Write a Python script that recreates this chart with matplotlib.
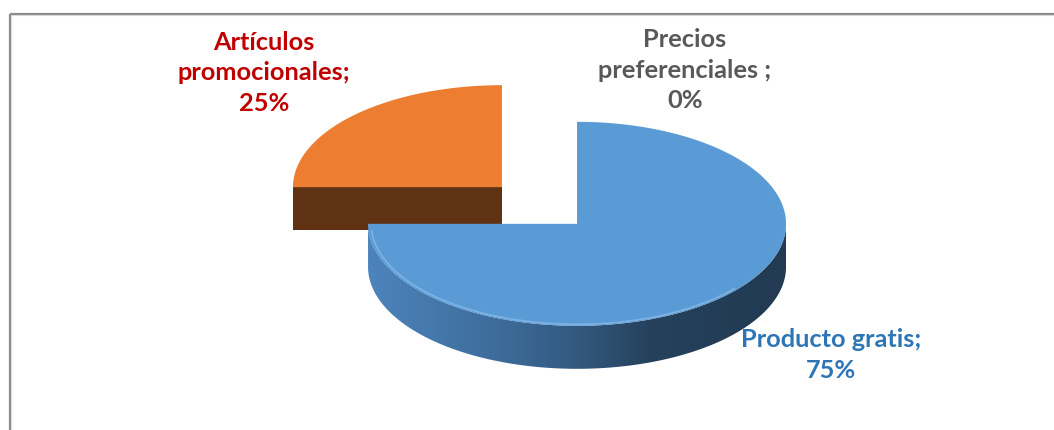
import numpy as np
import matplotlib
matplotlib.use("Agg")
import matplotlib.pyplot as plt
from matplotlib.patches import Polygon
from matplotlib.colors import LinearSegmentedColormap, to_rgb

# ---- data -------------------------------------------------------------
categories = ["Producto gratis", "Precios preferenciales", "Artículos promocionales"]
values = [75, 0, 25]
label_texts = ["Producto gratis;\n75%", "Precios\npreferenciales ;\n0%",
               "Artículos\npromocionales;\n25%"]

# ---- style ------------------------------------------------------------
top_colors = ["#5B9BD5", "#A5A5A5", "#ED7D31"]
label_colors = ["#2E75B6", "#595959", "#C00000"]
label_pos = [(831, 355), (685, 70), (264, 73)]
side_ramp = ["#4D84BC", "#3E6D9C", "#33597F", "#25415C", "#223A52"]

W, H = 1054, 430
cx, cy = 539.5, 205.5      # pie centre (pixels)
rx, ry = 209.0, 102.0      # ellipse radii of the tilted top face
depth = 43.0               # pie thickness
explode = 0.254

fig = plt.figure(figsize=(W / 100, H / 100), dpi=100)
ax = fig.add_axes([0, 0, 1, 1])
ax.set_xlim(0, W)
ax.set_ylim(H, 0)
ax.axis("off")


def ell(x0, y0, ang_deg, r=1.0):
    a = np.deg2rad(ang_deg)
    return x0 + rx * r * np.cos(a), y0 - ry * r * np.sin(a)


def darker(c, f):
    r, g, b = to_rgb(c)
    return (r * f, g * f, b * f)


# slice angles: start at 12 o'clock, clockwise
total = float(sum(values))
slices = []
start = 90.0
for i, v in enumerate(values):
    sweep = 360.0 * v / total
    t1, t2 = start, start - sweep
    start = t2
    if v <= 0:
        continue
    mid = np.deg2rad((t1 + t2) / 2)
    ox = cx + explode * rx * np.cos(mid)
    oy = cy - explode * ry * np.sin(mid)
    slices.append((oy, i, t1, t2, ox))

# draw from back to front
for oy, i, t1, t2, ox in sorted(slices):
    col = top_colors[i]

    # front radial faces
    for edge, normal in ((t1, t1 + 90), (t2, t2 - 90)):
        if np.sin(np.deg2rad(normal)) < -1e-6:
            ex, ey = ell(ox, oy, edge)
            face = Polygon([(ox, oy), (ex, ey), (ex, ey + depth), (ox, oy + depth)],
                           closed=True, fc=darker(col, 0.40), ec="none", zorder=2)
            ax.add_patch(face)

    # curved outer side (only the part facing the viewer)
    lo, hi = t2, t1
    vis = []
    for k in range(-2, 2):
        a0, a1 = 180 + 360 * k, 360 + 360 * k
        s0, s1 = max(lo, a0), min(hi, a1)
        if s1 > s0:
            vis.append((s0, s1))
    for s0, s1 in vis:
        angs = np.linspace(s0, s1, 200)
        xs, ys = ell(ox, oy, angs)
        pts = list(zip(xs, ys)) + list(zip(xs[::-1], ys[::-1] + depth))
        side = Polygon(pts, closed=True, fc="none", ec="none", zorder=3)
        ax.add_patch(side)
        cmap = LinearSegmentedColormap.from_list(
            "side", list(zip([0, 0.3, 0.5, 0.68, 1.0], side_ramp)))
        grad = np.linspace(0, 1, 256).reshape(1, -1)
        im = ax.imshow(grad, cmap=cmap, aspect="auto",
                       extent=(ox - rx, ox + rx, oy + ry + depth, oy - ry),
                       zorder=3, interpolation="bilinear")
        im.set_clip_path(side)

    # top face
    angs = np.linspace(t1, t2, 300)
    xs, ys = ell(ox, oy, angs)
    top = Polygon([(ox, oy)] + list(zip(xs, ys)), closed=True,
                  fc=col, ec="none", zorder=4)
    ax.add_patch(top)

    # soft highlight along the front rim of the top face
    for s0, s1 in vis:
        angs = np.linspace(s0 + 4, s1 - 40, 200)
        hx, hy = ell(ox, oy, angs, 0.985)
        ax.plot(hx, hy, color="#8CBDEB", lw=1.2, alpha=0.7, zorder=5,
                solid_capstyle="round")

# ---- labels -----------------------------------------------------------
for i in range(len(categories)):
    x, y = label_pos[i]
    ax.text(x, y, label_texts[i], ha="center", va="center", multialignment="center",
            fontsize=18.3, fontweight="bold", family=["Lato", "DejaVu Sans"],
            color=label_colors[i], linespacing=1.42, zorder=6)

# ---- chart area frame (top and left edges) ----------------------------
ax.plot([9.5, W], [13.5, 13.5], color="#8C8C8C", lw=1.6, zorder=7,
        solid_capstyle="butt")
ax.plot([9.5, 9.5], [13.5, H], color="#8C8C8C", lw=1.6, zorder=7,
        solid_capstyle="butt")
ax.plot([11, W], [15.2, 15.2], color="#D9D9D9", lw=0.8, zorder=7)
ax.plot([11.2, 11.2], [15, H], color="#D9D9D9", lw=0.8, zorder=7)

fig.savefig("out.png", dpi=100)
